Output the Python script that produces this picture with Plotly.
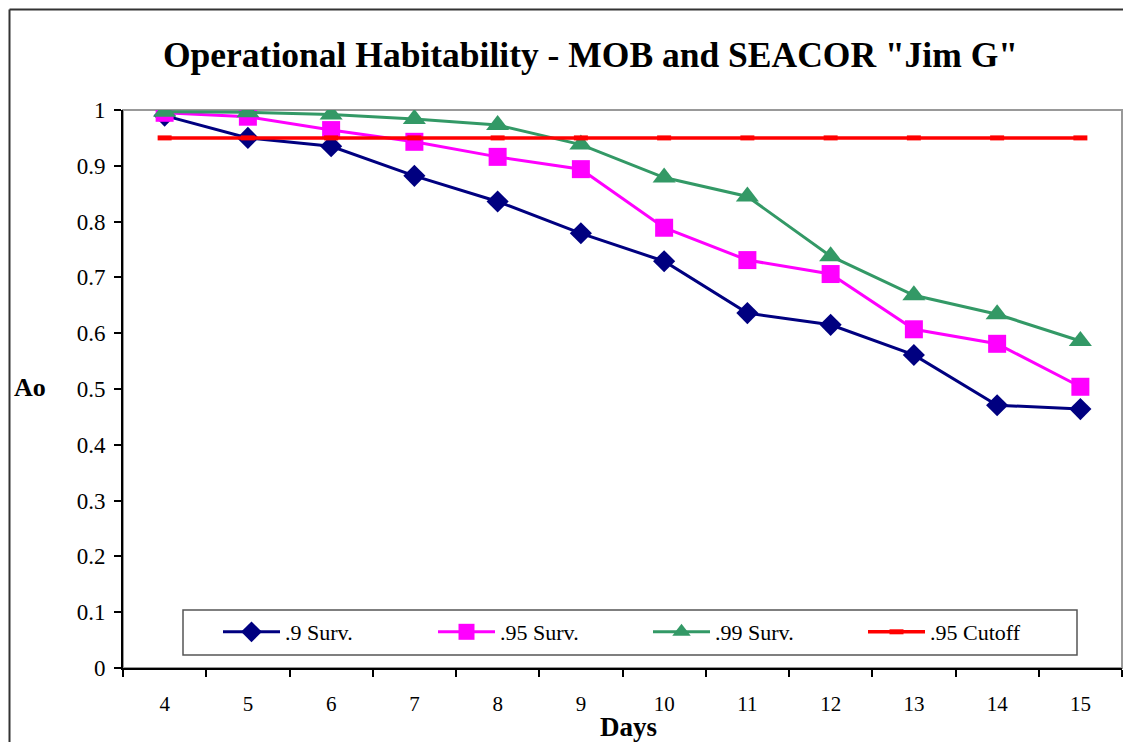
import plotly.graph_objects as go

days = [4, 5, 6, 7, 8, 9, 10, 11, 12, 13, 14, 15]
surv_90 = [0.99, 0.950, 0.935, 0.882, 0.836, 0.779, 0.729, 0.636, 0.615, 0.561, 0.471, 0.464]
surv_95 = [0.995, 0.988, 0.964, 0.943, 0.916, 0.894, 0.789, 0.731, 0.706, 0.607, 0.581, 0.504]
surv_99 = [0.997, 0.996, 0.992, 0.984, 0.973, 0.938, 0.879, 0.845, 0.738, 0.668, 0.634, 0.586]
cutoff = [0.95] * 12
ytick_vals = [0, 0.1, 0.2, 0.3, 0.4, 0.5, 0.6, 0.7, 0.8, 0.9, 1]
ytick_text = ["0", "0.1", "0.2", "0.3", "0.4", "0.5", "0.6", "0.7", "0.8", "0.9", "1"]

FONT = "Liberation Serif, Times New Roman, serif"
cats = [str(d) for d in days]

fig = go.Figure()
fig.add_trace(go.Scatter(x=cats, y=surv_90, name=".9 Surv.", mode="lines+markers",
                         line=dict(color="#000080", width=3),
                         marker=dict(symbol="diamond", size=17, color="#000080")))
fig.add_trace(go.Scatter(x=cats, y=surv_95, name=".95 Surv.", mode="lines+markers",
                         line=dict(color="#FF00FF", width=3),
                         marker=dict(symbol="square", size=18, color="#FF00FF")))
fig.add_trace(go.Scatter(x=cats, y=surv_99, name=".99 Surv.", mode="lines+markers",
                         line=dict(color="#339966", width=3),
                         marker=dict(symbol="triangle-up", size=20, color="#339966")))
fig.add_trace(go.Scatter(x=cats, y=cutoff, name=".95 Cutoff", mode="lines+markers",
                         line=dict(color="#FF0000", width=3.5),
                         marker=dict(symbol="line-ew", size=10, color="#FF0000",
                                     line=dict(color="#FF0000", width=5))))

# page has an 8px body margin; keep the figure inside the window and place the
# plot area at page x 123..1122, y 110..668
OFF = 8
W, H = 1131 - 2 * OFF, 750 - 2 * OFF
L, T = 123 - OFF, 110 - OFF
R = (OFF + W) - 1122
B = (OFF + H) - 668
pw, ph = W - L - R, H - T - B

def px(x):
    return (x - 123) / pw

def py(y):
    return (668 - y) / ph

shapes = [
    # outer chart border: only top and left edges are visible in the reference
    dict(type="line", xref="paper", yref="paper", x0=px(9.5), x1=px(1131), y0=py(9.5), y1=py(9.5),
         line=dict(color="#333333", width=2), layer="below"),
    dict(type="line", xref="paper", yref="paper", x0=px(9.5), x1=px(9.5), y0=py(9.5), y1=py(750),
         line=dict(color="#333333", width=2), layer="below"),
    # plot area border
    dict(type="rect", xref="paper", yref="paper", x0=0, x1=1, y0=0, y1=1,
         line=dict(color="#999999", width=2), fillcolor="rgba(0,0,0,0)", layer="below"),
    # legend box
    dict(type="rect", xref="paper", yref="paper", x0=px(183), x1=px(1077), y0=py(655), y1=py(610),
         line=dict(color="#555555", width=1.5), fillcolor="white", layer="below"),
]

fig.update_layout(
    width=W, height=H,
    margin=dict(l=L, r=R, t=T, b=B, autoexpand=False),
    paper_bgcolor="white", plot_bgcolor="white",
    font=dict(family=FONT, color="black", size=21),
    showlegend=True,
    legend=dict(orientation="h", x=px(218), xanchor="left", y=py(632), yanchor="middle",
                bgcolor="rgba(0,0,0,0)", borderwidth=0,
                font=dict(family=FONT, size=22, color="black"),
                entrywidth=143, entrywidthmode="pixels", itemwidth=57),
    shapes=shapes,
    annotations=[
        dict(text="Operational Habitability - MOB and SEACOR \"Jim G\"", xref="paper", yref="paper",
             x=px(590), y=py(55), xanchor="center", yanchor="middle", showarrow=False,
             font=dict(family=FONT, size=35.5, color="black", weight="bold")),
        dict(text="Days", xref="paper", yref="paper", x=px(628), y=py(727),
             xanchor="center", yanchor="middle", showarrow=False,
             font=dict(family=FONT, size=27, color="black", weight="bold")),
        dict(text="Ao", xref="paper", yref="paper", x=px(30), y=py(387),
             xanchor="center", yanchor="middle", showarrow=False,
             font=dict(family=FONT, size=26, color="black", weight="bold")),
    ],
)

fig.update_xaxes(type="category", range=[-0.5, len(days) - 0.5], tickson="boundaries",
                 ticks="outside", ticklen=7,
                 tickcolor="black", tickwidth=1.5, showline=True, linecolor="black", linewidth=2,
                 showgrid=False, zeroline=False, tickfont=dict(family=FONT, size=21),
                 ticklabelstandoff=16, automargin=False)
fig.update_yaxes(range=[0, 1], tickvals=ytick_vals, ticktext=ytick_text, ticks="outside",
                 ticklen=7, tickcolor="black", tickwidth=1.5, showline=True, linecolor="black",
                 linewidth=2, showgrid=False, zeroline=False,
                 tickfont=dict(family=FONT, size=23), ticklabelstandoff=4, automargin=False)

fig.write_html("out.html")
